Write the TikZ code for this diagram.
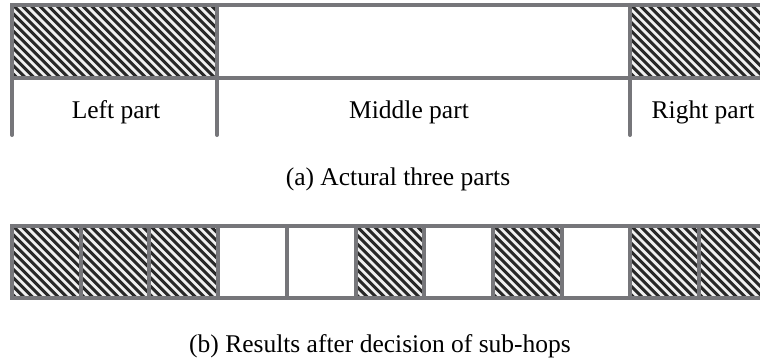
\documentclass[tikz,border=0pt]{standalone}
\usepackage{fontspec}
\setmainfont{Liberation Serif}
\definecolor{framegray}{RGB}{118,118,122}
\definecolor{stripedark}{RGB}{40,40,40}
\definecolor{stripelight}{RGB}{240,240,240}
\tikzset{
  frame/.style={draw=framegray,line width=4pt},
  lbl/.style={font=\fontsize{25.5}{30}\selectfont, inner sep=0pt, anchor=base},
}
\newcommand\myhatch[4]{%
  \begin{scope}
    \clip (#1,#2) rectangle (#3,#4);
    \fill[stripelight] (#1,#2) rectangle (#3,#4);
    \foreach \k in {0,...,38}
      \draw[stripedark,line width=3pt] ({#1+\k*8.6-85},#2) -- ++(100,100);
  \end{scope}}
\begin{document}
\begin{tikzpicture}[x=1pt,y=-1pt]
\useasboundingbox (0,0) rectangle (760,361);
% ---- (a) top row ----
\myhatch{12}{5}{217}{78}
\myhatch{630}{5}{770}{78}
\draw[frame,line cap=round] (12,135) -- (12,5) -- (775,5);
\draw[frame] (12,78) -- (775,78);
\draw[frame,line cap=round] (217,5) -- (217,135);
\draw[frame,line cap=round] (630,5) -- (630,135);
\node[lbl] (left) at (116,118) {Left part};
\node[lbl] (middle) at (409,118) {Middle part};
\node[lbl] (right) at (703,118) {Right part};
\node[lbl] (capa) at (398,185) {(a) Actural three parts};
% ---- (b) bottom row ----
\foreach \i in {0,1,2,5,7,9,10}
  \myhatch{12+68.7*\i}{226}{12+68.7*\i+68.7}{298}
\draw[frame,line cap=round] (775,226) -- (12,226) -- (12,298) -- (775,298);
\foreach \i in {1,...,10}
  \draw[frame] ({12+68.7*\i},226) -- ({12+68.7*\i},298);
\node[lbl] (capb) at (380,352) {(b) Results after decision of sub-hops};
\end{tikzpicture}
\end{document}
